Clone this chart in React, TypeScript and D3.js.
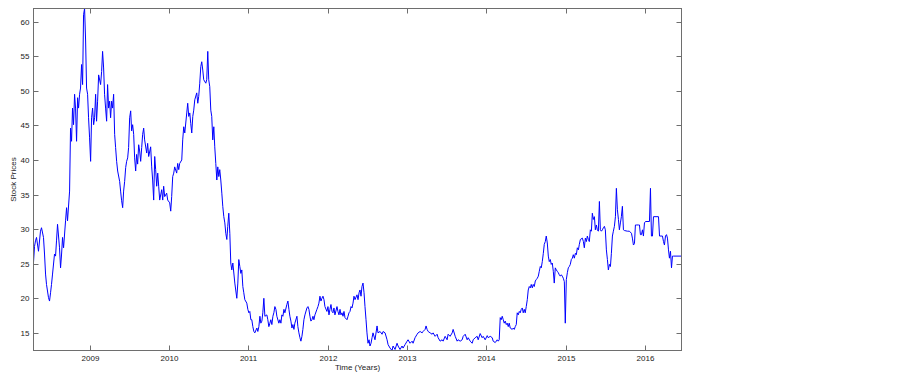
import { scaleLinear, line as d3Line, extent } from "d3";

// trading dates as decimal years, and close prices
const years = [
  2008.293, 2008.306, 2008.318, 2008.331, 2008.356, 2008.381, 2008.394, 2008.419, 2008.432, 2008.445,
  2008.457, 2008.482, 2008.495, 2008.508, 2008.52, 2008.533, 2008.558, 2008.571, 2008.583, 2008.596,
  2008.621, 2008.634, 2008.647, 2008.659, 2008.672, 2008.697, 2008.71, 2008.722, 2008.748, 2008.76,
  2008.773, 2008.785, 2008.798, 2008.811, 2008.823, 2008.836, 2008.849, 2008.861, 2008.874, 2008.886,
  2008.899, 2008.912, 2008.924, 2008.937, 2008.95, 2008.962, 2008.975, 2008.987, 2009.0, 2009.013,
  2009.025, 2009.038, 2009.051, 2009.063, 2009.076, 2009.088, 2009.101, 2009.114, 2009.139, 2009.152,
  2009.164, 2009.177, 2009.189, 2009.202, 2009.215, 2009.227, 2009.24, 2009.253, 2009.265, 2009.278,
  2009.29, 2009.303, 2009.316, 2009.328, 2009.341, 2009.354, 2009.379, 2009.391, 2009.404, 2009.417,
  2009.429, 2009.442, 2009.455, 2009.467, 2009.48, 2009.492, 2009.505, 2009.518, 2009.53, 2009.543,
  2009.556, 2009.568, 2009.581, 2009.593, 2009.606, 2009.619, 2009.631, 2009.644, 2009.657, 2009.669,
  2009.682, 2009.694, 2009.72, 2009.732, 2009.745, 2009.77, 2009.783, 2009.795, 2009.808, 2009.821,
  2009.833, 2009.846, 2009.859, 2009.871, 2009.884, 2009.909, 2009.922, 2009.934, 2009.947, 2009.972,
  2009.985, 2010.01, 2010.023, 2010.035, 2010.048, 2010.061, 2010.073, 2010.098, 2010.111, 2010.124,
  2010.136, 2010.162, 2010.174, 2010.187, 2010.2, 2010.225, 2010.237, 2010.25, 2010.263, 2010.275,
  2010.288, 2010.301, 2010.313, 2010.326, 2010.351, 2010.364, 2010.376, 2010.389, 2010.402, 2010.414,
  2010.427, 2010.439, 2010.465, 2010.477, 2010.49, 2010.502, 2010.515, 2010.528, 2010.54, 2010.553,
  2010.566, 2010.578, 2010.591, 2010.604, 2010.616, 2010.629, 2010.641, 2010.654, 2010.667, 2010.679,
  2010.692, 2010.705, 2010.717, 2010.73, 2010.742, 2010.755, 2010.768, 2010.78, 2010.793, 2010.806,
  2010.831, 2010.856, 2010.869, 2010.881, 2010.894, 2010.907, 2010.919, 2010.932, 2010.944, 2010.957,
  2010.982, 2010.995, 2011.008, 2011.02, 2011.033, 2011.045, 2011.058, 2011.071, 2011.083, 2011.109,
  2011.121, 2011.134, 2011.147, 2011.159, 2011.172, 2011.184, 2011.197, 2011.21, 2011.235, 2011.247,
  2011.26, 2011.273, 2011.285, 2011.298, 2011.311, 2011.323, 2011.336, 2011.349, 2011.361, 2011.386,
  2011.399, 2011.412, 2011.424, 2011.437, 2011.45, 2011.462, 2011.487, 2011.5, 2011.513, 2011.525,
  2011.538, 2011.551, 2011.563, 2011.576, 2011.588, 2011.614, 2011.626, 2011.639, 2011.652, 2011.664,
  2011.677, 2011.689, 2011.702, 2011.715, 2011.74, 2011.753, 2011.765, 2011.778, 2011.79, 2011.803,
  2011.816, 2011.828, 2011.841, 2011.866, 2011.879, 2011.891, 2011.904, 2011.917, 2011.929, 2011.942,
  2011.955, 2011.967, 2011.992, 2012.005, 2012.018, 2012.03, 2012.043, 2012.056, 2012.068, 2012.081,
  2012.093, 2012.119, 2012.131, 2012.144, 2012.157, 2012.169, 2012.182, 2012.195, 2012.207, 2012.22,
  2012.245, 2012.258, 2012.27, 2012.283, 2012.296, 2012.308, 2012.321, 2012.333, 2012.346, 2012.371,
  2012.384, 2012.397, 2012.409, 2012.422, 2012.434, 2012.447, 2012.46, 2012.472, 2012.485, 2012.497,
  2012.51, 2012.523, 2012.535, 2012.548, 2012.561, 2012.573, 2012.598, 2012.624, 2012.636, 2012.662,
  2012.687, 2012.7, 2012.725, 2012.75, 2012.763, 2012.788, 2012.813, 2012.826, 2012.851, 2012.876,
  2012.889, 2012.914, 2012.939, 2012.952, 2012.977, 2013.003, 2013.015, 2013.04, 2013.066, 2013.078,
  2013.103, 2013.129, 2013.141, 2013.167, 2013.192, 2013.204, 2013.23, 2013.242, 2013.255, 2013.268,
  2013.293, 2013.318, 2013.331, 2013.356, 2013.381, 2013.394, 2013.419, 2013.444, 2013.457, 2013.482,
  2013.507, 2013.52, 2013.545, 2013.571, 2013.583, 2013.609, 2013.634, 2013.646, 2013.672, 2013.697,
  2013.71, 2013.735, 2013.76, 2013.773, 2013.798, 2013.823, 2013.836, 2013.861, 2013.886, 2013.899,
  2013.924, 2013.949, 2013.962, 2013.987, 2014.013, 2014.025, 2014.051, 2014.076, 2014.088, 2014.114,
  2014.139, 2014.152, 2014.164, 2014.177, 2014.189, 2014.202, 2014.215, 2014.227, 2014.24, 2014.253,
  2014.265, 2014.278, 2014.29, 2014.303, 2014.328, 2014.341, 2014.354, 2014.366, 2014.379, 2014.391,
  2014.404, 2014.417, 2014.429, 2014.442, 2014.455, 2014.467, 2014.48, 2014.492, 2014.505, 2014.518,
  2014.53, 2014.543, 2014.556, 2014.568, 2014.581, 2014.593, 2014.606, 2014.619, 2014.631, 2014.644,
  2014.657, 2014.669, 2014.682, 2014.694, 2014.707, 2014.72, 2014.732, 2014.745, 2014.757, 2014.77,
  2014.783, 2014.795, 2014.808, 2014.82, 2014.833, 2014.846, 2014.858, 2014.871, 2014.884, 2014.896,
  2014.909, 2014.921, 2014.934, 2014.947, 2014.959, 2014.972, 2014.985, 2014.997, 2015.01, 2015.023,
  2015.035, 2015.048, 2015.06, 2015.073, 2015.086, 2015.098, 2015.111, 2015.124, 2015.136, 2015.149,
  2015.162, 2015.174, 2015.187, 2015.212, 2015.225, 2015.237, 2015.25, 2015.263, 2015.275, 2015.288,
  2015.3, 2015.313, 2015.326, 2015.338, 2015.351, 2015.364, 2015.376, 2015.389, 2015.401, 2015.414,
  2015.427, 2015.439, 2015.452, 2015.465, 2015.477, 2015.49, 2015.502, 2015.515, 2015.528, 2015.54,
  2015.553, 2015.566, 2015.578, 2015.591, 2015.603, 2015.616, 2015.629, 2015.641, 2015.654, 2015.667,
  2015.679, 2015.692, 2015.704, 2015.717, 2015.73, 2015.742, 2015.78, 2015.805, 2015.831, 2015.843,
  2015.856, 2015.869, 2015.881, 2015.894, 2015.919, 2015.932, 2015.944, 2015.957, 2015.97, 2015.982,
  2015.995, 2016.008, 2016.058, 2016.071, 2016.083, 2016.096, 2016.109, 2016.172, 2016.185, 2016.222,
  2016.235, 2016.247, 2016.26, 2016.273, 2016.285, 2016.298, 2016.31, 2016.323, 2016.336, 2016.348,
  2016.361, 2016.462,
];

const prices = [
  25.2, 27.5, 28.3, 28.8, 26.8, 29.7, 30.2, 28.8, 26.4, 23.5,
  22, 20.1, 19.6, 20.8, 22, 23.5, 26.4, 26.1, 28.3, 30.7,
  27.3, 24.4, 26.4, 28.8, 27.3, 31.2, 33.1, 31.2, 35.5, 44.6,
  42.7, 47.5, 45.1, 49.5, 47.5, 42.7, 49, 47.5, 49.5, 50.4,
  53.8, 50.9, 61, 61.9, 57.2, 50.4, 49.5, 46.1, 43.2, 39.8,
  46.1, 47.5, 45.1, 46.1, 49.5, 45.6, 48.5, 52.3, 50.9, 52.8,
  55.7, 53.3, 49.5, 47.5, 45.6, 50.9, 47.5, 48.5, 46.1, 48.5,
  47.5, 49.5, 43.7, 41.8, 39.8, 38.4, 36.9, 35.5, 34.1, 33.1,
  35.5, 36.9, 38.9, 39.8, 40.3, 41.8, 46.1, 47.1, 44.2, 45.1,
  43.7, 40.3, 38.4, 40.8, 39.4, 42.2, 41.3, 39.8, 41.8, 43.7,
  44.6, 42.9, 41, 42.4, 40.5, 41.9, 39, 37.1, 34.2, 40.5,
  38.6, 36.2, 38.1, 36.2, 34.2, 35.7, 34.2, 36.2, 34.7, 35.2,
  34.2, 33.8, 32.6, 34.7, 37.6, 38.1, 39, 38.1, 39.5, 38.6,
  39.5, 40, 42.9, 44.8, 43.9, 46.8, 48.2, 46.3, 46.8, 45.3,
  43.9, 46.3, 47.2, 48.7, 49.7, 48.2, 49.2, 51.1, 53.5, 54.2,
  53, 51.6, 51.1, 51.6, 55.7, 51.6, 50.6, 47.2, 46.3, 42.9,
  44.8, 41.9, 39.5, 37.1, 39, 37.6, 38.6, 37.1, 35.2, 33.3,
  31.8, 30.9, 29.4, 28.5, 30.4, 32.3, 29.4, 25.1, 24.1, 25.1,
  22.2, 20, 22.2, 25.6, 24.6, 23.6, 24.1, 21.7, 20.8, 19.8,
  19.3, 18.4, 17.9, 18.1, 16.9, 16.9, 15.9, 15.2, 15, 15.7,
  15.2, 15.9, 17.4, 16.4, 16.7, 17.9, 20, 17.4, 17.6, 16.9,
  15.9, 16.4, 16.9, 16.2, 17.4, 17.9, 18.8, 18.4, 17.4, 16.4,
  16.9, 16.4, 17.6, 17.4, 18.4, 17.9, 19.1, 19.6, 18.4, 17.4,
  16.7, 15.7, 16.2, 15.5, 16.4, 17.4, 15.9, 15, 14.3, 13.8,
  14.5, 15.5, 16.9, 17.6, 18.6, 18.8, 18.4, 17.4, 16.7, 16.9,
  17.4, 16.9, 17.6, 18.4, 18.8, 19.3, 20.3, 19.6, 20, 20.3,
  19.8, 18.8, 18.1, 18.8, 17.6, 18.4, 19.1, 18.1, 17.9, 18.6,
  17.6, 18.8, 18.1, 17.6, 18.4, 17.6, 17.9, 17.4, 18.1, 17.2,
  16.9, 17.4, 17.9, 18.1, 18.8, 18.6, 19.3, 20.3, 19.8, 20.5,
  19.8, 20.8, 21.2, 20.3, 21.7, 22.2, 20.8, 18.8, 16.9, 15,
  13.5, 14, 13.1, 13.5, 14.3, 15, 14, 16, 15, 15.2,
  14.8, 15.2, 15, 14, 13.3, 12.8, 12.45, 13.1, 12.6, 13.5,
  13.1, 12.6, 13.1, 12.8, 13.3, 13.8, 14, 13.5, 13.8, 13.5,
  14.3, 14.8, 15, 15.2, 15, 15.2, 15.5, 16, 15.5, 15.2,
  15, 14.8, 15, 14.5, 14.8, 14.3, 13.8, 14, 13.8, 14.5,
  14, 14.8, 14.5, 15, 15.5, 14.5, 13.8, 14, 13.8, 14,
  14.5, 14.8, 14, 14.3, 13.8, 13.5, 14, 14.3, 14.5, 14,
  14.9, 14.3, 14.5, 14, 14.6, 14.3, 14.5, 14.3, 13.8, 13.6,
  14, 13.8, 14, 17.2, 16.9, 17.4, 16.9, 16.4, 16.7, 16.2,
  16.4, 15.9, 16.4, 15.7, 15.5, 15.7, 15.5, 15.9, 16.2, 17.9,
  17.6, 18.1, 17.9, 18.4, 18.6, 17.9, 18.4, 17.9, 18.8, 19.8,
  21.2, 21.7, 21.5, 22, 21.5, 22, 21.7, 22.5, 22.7, 22.9,
  23.2, 23.9, 24.6, 24.4, 25.3, 26.5, 27.8, 28.2, 29, 28,
  26.1, 25.3, 25.6, 24.9, 25.1, 23.9, 22.2, 24.4, 24.1, 23.9,
  23.7, 23.4, 23.2, 23.4, 23.2, 22.9, 22.4, 16.4, 22.7, 23.7,
  24.4, 24.6, 24.9, 25.6, 25.8, 26.3, 25.8, 26.5, 26.3, 27.3,
  27, 27.8, 28.5, 28.7, 28.2, 27.3, 28.7, 28.2, 29, 28.5,
  28.2, 29.9, 29.7, 32.3, 31.4, 31.8, 29.9, 30.6, 29.9, 29.7,
  34, 29.9, 29.7, 29.9, 30.2, 30.4, 29.9, 27, 25.6, 24.1,
  24.9, 24.6, 26.5, 29, 29.7, 30.4, 31.8, 35.9, 32.8, 31.4,
  29.9, 30.9, 31.8, 33.3, 29.9, 29.8, 29.7, 29.7, 29.4, 28.7,
  27.7, 27.9, 30.6, 30.6, 30.6, 30.6, 29.2, 29.2, 29.9, 29,
  30.9, 31.1, 31.1, 35.9, 29, 29, 31.8, 31.8, 29, 29,
  28.2, 27.7, 29, 29.2, 28.7, 27, 25.8, 26.8, 24.4, 26.1,
  26.1, 26.1,
];

const yearTicks = [2009, 2010, 2011, 2012, 2013, 2014, 2015, 2016];
const priceTicks = [15, 20, 25, 30, 35, 40, 45, 50, 55, 60];

type Pt = { t: number; p: number };

export default function App() {
  const width = 903;
  const height = 379;
  const plot = { left: 33.5, right: 681.5, top: 8.5, bottom: 350.5 };
  const tickLen = 5;
  const axisColor = "#6e6e6e";
  const font = "'Liberation Sans', Arial, sans-serif";

  const data: Pt[] = years.map((t, i) => ({ t, p: prices[i] }));

  const xScale = scaleLinear()
    .domain(extent(years) as [number, number])
    .range([plot.left, plot.right]);

  const yScale = scaleLinear()
    .domain(extent(prices) as [number, number])
    .range([plot.bottom, plot.top]);

  const lineGenerator = d3Line<Pt>()
    .x((d) => xScale(d.t))
    .y((d) => yScale(d.p));

  const pathD = lineGenerator(data) ?? "";

  return (
    <>
      <style>{`body{margin:0;background:#fff}`}</style>
      <svg width={width} height={height} style={{ display: "block" }}>
        <rect x={0} y={0} width={width} height={height} fill="#fff" />

        <path d={pathD} fill="none" stroke="#0000ff" strokeWidth={1} />

        <rect
          x={plot.left}
          y={plot.top}
          width={plot.right - plot.left}
          height={plot.bottom - plot.top}
          fill="none"
          stroke={axisColor}
          strokeWidth={1}
        />

        {yearTicks.map((tick) => {
          const x = Math.round(xScale(tick)) + 0.5;
          return (
            <g key={`x-${tick}`}>
              <line x1={x} x2={x} y1={plot.bottom} y2={plot.bottom - tickLen} stroke={axisColor} />
              <line x1={x} x2={x} y1={plot.top} y2={plot.top + tickLen} stroke={axisColor} />
              <text
                x={x}
                y={plot.bottom + 10}
                textAnchor="middle"
                fontFamily={font}
                fontSize={8}
                fill="#222"
              >
                {tick}
              </text>
            </g>
          );
        })}

        {priceTicks.map((tick) => {
          const y = Math.round(yScale(tick)) + 0.5;
          return (
            <g key={`y-${tick}`}>
              <line x1={plot.left} x2={plot.left + tickLen} y1={y} y2={y} stroke={axisColor} />
              <line x1={plot.right} x2={plot.right - tickLen} y1={y} y2={y} stroke={axisColor} />
              <text
                x={plot.left - 4}
                y={y}
                dy="0.35em"
                textAnchor="end"
                fontFamily={font}
                fontSize={8}
                fill="#222"
              >
                {tick}
              </text>
            </g>
          );
        })}

        <text
          transform={`translate(16,${(plot.top + plot.bottom) / 2}) rotate(-90)`}
          textAnchor="middle"
          fontFamily={font}
          fontSize={8}
          fill="#222"
        >
          Stock Prices
        </text>
        <text
          x={(plot.left + plot.right) / 2}
          y={370}
          textAnchor="middle"
          fontFamily={font}
          fontSize={8}
          fill="#222"
        >
          Time (Years)
        </text>
      </svg>
    </>
  );
}
